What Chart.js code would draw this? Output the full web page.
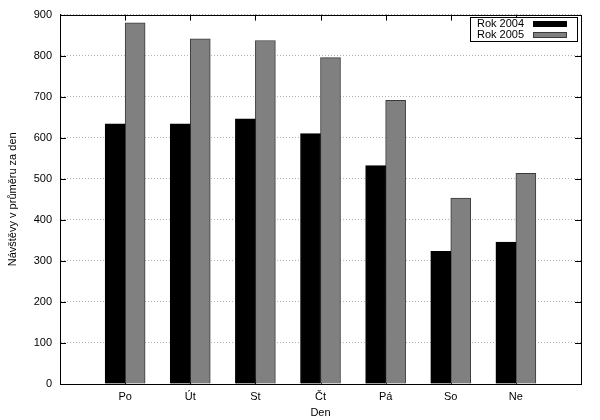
<!DOCTYPE html>
<html><head><meta charset="utf-8">
<script src="https://cdn.jsdelivr.net/npm/chart.js@4.4.1/dist/chart.umd.min.js"></script>
<style>html,body{margin:0;padding:0;background:#fff}canvas{display:block}</style>
</head><body>
<canvas id="c" width="600" height="420"></canvas>
<script>
const days = ['Po', 'Út', 'St', 'Čt', 'Pá', 'So', 'Ne'];
const seriesNames = ['Rok 2004', 'Rok 2005'];
const visits2004 = [634, 634, 646, 610, 532, 323, 346];
const visits2005 = [880, 841, 837, 795, 691, 453, 513];
const yTicks = [0, 100, 200, 300, 400, 500, 600, 700, 800, 900];
const xTitle = 'Den';
const yTitle = 'Návštěvy v průměru za den';

const FONT = {family: '"Liberation Sans", Arial, sans-serif', size: 11};

const ticksPlugin = {
  id: 'gnuTicks',
  beforeDatasetsDraw(chart) {
    const {ctx, chartArea: a, scales: {x, y}} = chart;
    ctx.save();
    ctx.strokeStyle = '#000';
    ctx.lineWidth = 1;
    ctx.beginPath();
    yTicks.forEach(v => {
      const py = Math.round(y.getPixelForValue(v)) + 0.5;
      ctx.moveTo(a.left, py); ctx.lineTo(a.left + 6, py);
      ctx.moveTo(a.right, py); ctx.lineTo(a.right - 6, py);
    });
    days.forEach((d, i) => {
      const px = Math.round(x.getPixelForValue(i)) + 0.5;
      ctx.moveTo(px, a.bottom); ctx.lineTo(px, a.bottom - 6);
      ctx.moveTo(px, a.top); ctx.lineTo(px, a.top + 6);
    });
    ctx.stroke();
    ctx.restore();
  },
  afterDraw(chart) {
    const {ctx, chartArea: a} = chart;
    ctx.save();
    ctx.strokeStyle = '#000';
    ctx.lineWidth = 1;
    ctx.strokeRect(Math.round(a.left) + 0.5, Math.round(a.top) + 0.5,
                   Math.round(a.right - a.left) , Math.round(a.bottom - a.top));
    // legend box
    const bx = 470.5, by = 17.5, bw = 107, bh = 24;
    ctx.fillStyle = '#fff';
    ctx.fillRect(bx, by, bw, bh);
    ctx.strokeRect(bx, by, bw, bh);
    ctx.font = '11px "Liberation Sans", Arial, sans-serif';
    ctx.textBaseline = 'middle';
    ctx.textAlign = 'left';
    chart.data.datasets.forEach((ds, i) => {
      const cy = by + 6.5 + i * 11;
      ctx.fillStyle = '#000';
      ctx.fillText(ds.label, 477, cy);
      ctx.fillStyle = ds.backgroundColor;
      ctx.fillRect(533, cy - 3, 34, 6);
      ctx.strokeStyle = ds.borderColor;
      ctx.strokeRect(533.5, cy - 2.5, 33, 5);
    });
    ctx.restore();
  }
};

new Chart(document.getElementById('c'), {
  type: 'bar',
  data: {
    datasets: [
      {label: seriesNames[0], data: visits2004.map((v, i) => ({x: i, y: v})),
       backgroundColor: '#000000', borderColor: '#000000', borderWidth: 1, barThickness: 20},
      {label: seriesNames[1], data: visits2005.map((v, i) => ({x: i, y: v})),
       backgroundColor: '#808080', borderColor: '#3a3a3a', borderWidth: 1, barThickness: 20}
    ]
  },
  options: {
    responsive: false,
    animation: false,
    layout: {padding: {top: 14, right: 19, left: 0, bottom: 0}},
    plugins: {legend: {display: false}, tooltip: {enabled: false}},
    scales: {
      x: {
        type: 'linear', min: -1, max: 7, offset: false,
        afterBuildTicks(s) { s.ticks = days.map((d, i) => ({value: i})); },
        ticks: {stepSize: 1, font: FONT, color: '#000', padding: 6, maxRotation: 0,
                callback: v => days[v] ?? ''},
        grid: {display: false, drawTicks: false},
        border: {display: true, color: '#000'},
        title: {display: true, text: xTitle, font: FONT, color: '#000', padding: {top: 4, bottom: 0}},
        afterFit(s) { s.height = 36; }
      },
      y: {
        min: 0, max: 900,
        afterBuildTicks(s) { s.ticks = yTicks.map(v => ({value: v})); },
        ticks: {font: FONT, color: '#000', padding: 8},
        grid: {drawTicks: false, color: '#b4b4b4', lineWidth: 1},
        border: {display: true, color: '#000', dash: [1, 2]},
        title: {display: true, text: yTitle, font: FONT, color: '#000', padding: {top: 6, bottom: 0}},
        afterFit(s) { s.width = 60; }
      }
    }
  },
  plugins: [ticksPlugin]
});
</script>
</body></html>
